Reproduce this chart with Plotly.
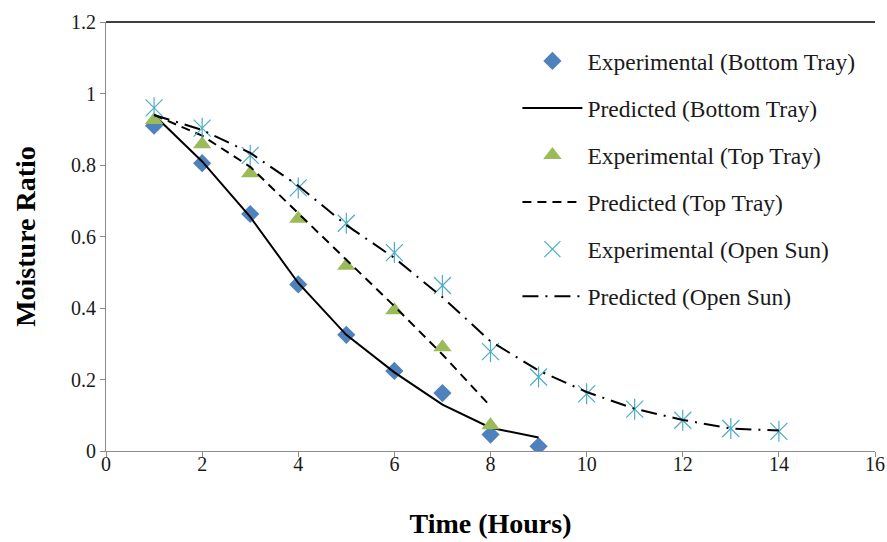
import plotly.graph_objects as go

# Drying time (hours)
hours_bottom = [1, 2, 3, 4, 5, 6, 7, 8, 9]
hours_top = [1, 2, 3, 4, 5, 6, 7, 8]
hours_sun = [1, 2, 3, 4, 5, 6, 7, 8, 9, 10, 11, 12, 13, 14]

# Moisture ratio: experimental and predicted
exp_bottom = [0.91, 0.805, 0.663, 0.466, 0.325, 0.224, 0.162, 0.046, 0.013]
pred_bottom = [0.94, 0.81, 0.655, 0.47, 0.325, 0.22, 0.13, 0.065, 0.038]

exp_top = [0.926, 0.858, 0.777, 0.65, 0.518, 0.394, 0.29, 0.072]
pred_top = [0.94, 0.882, 0.795, 0.665, 0.537, 0.405, 0.27, 0.125]

exp_sun = [0.96, 0.903, 0.827, 0.736, 0.637, 0.555, 0.463, 0.278, 0.207,
           0.16, 0.117, 0.086, 0.063, 0.055]
pred_sun = [0.94, 0.898, 0.834, 0.742, 0.632, 0.54, 0.43, 0.307, 0.225,
            0.165, 0.118, 0.087, 0.063, 0.057]

BLUE = "#4F81BD"
GREEN = "#9BBB59"
CYAN = "#4BACC6"
SERIF = "Liberation Serif, Times New Roman, serif"

fig = go.Figure()

fig.add_trace(go.Scatter(
    x=hours_bottom, y=exp_bottom, mode="markers",
    name="Experimental (Bottom Tray)", legendgroup="g1",
    marker=dict(symbol="diamond", size=14, color=BLUE),
))
fig.add_trace(go.Scatter(
    x=hours_bottom, y=pred_bottom, mode="lines",
    name="Predicted (Bottom Tray)", legendgroup="g2",
    line=dict(color="black", width=2),
))
fig.add_trace(go.Scatter(
    x=hours_top, y=exp_top, mode="markers",
    name="Experimental (Top Tray)", legendgroup="g3",
    marker=dict(symbol="triangle-up", size=16, color=GREEN),
))
fig.add_trace(go.Scatter(
    x=hours_top, y=pred_top, mode="lines",
    name="Predicted (Top Tray)", legendgroup="g4",
    line=dict(color="black", width=2, dash="9px,6px"),
))
# star marker: an X with a vertical stroke through it
fig.add_trace(go.Scatter(
    x=hours_sun, y=exp_sun, mode="markers",
    name="Experimental (Open Sun)", legendgroup="g5",
    marker=dict(symbol="x-thin-open", size=17, color=CYAN,
                line=dict(color=CYAN, width=1.2)),
))
fig.add_trace(go.Scatter(
    x=hours_sun, y=exp_sun, mode="markers",
    name="Experimental (Open Sun)", legendgroup="g5", showlegend=False,
    marker=dict(symbol="line-ns-open", size=15, color=CYAN,
                line=dict(color=CYAN, width=1.2)),
))
fig.add_trace(go.Scatter(
    x=hours_sun, y=pred_sun, mode="lines",
    name="Predicted (Open Sun)", legendgroup="g6",
    line=dict(color="black", width=2, dash="16px,7px,2px,7px"),
))

axis_common = dict(
    showline=True, linecolor="#8C8C8C", linewidth=1,
    ticks="outside", ticklen=5, tickcolor="#8C8C8C",
    showgrid=False, zeroline=False,
    tickfont=dict(family=SERIF, size=20, color="#1a1a1a"),
)

fig.update_xaxes(
    range=[0, 16], dtick=2, tick0=0, ticklabelstandoff=-10,
    title=dict(text="<b>Time (Hours)</b>", font=dict(family=SERIF, size=28, color="black"),
               standoff=39),
    **axis_common,
)
fig.update_yaxes(
    range=[0, 1.2], dtick=0.2, tick0=0,
    title=dict(text="<b>Moisture Ratio</b>", font=dict(family=SERIF, size=28, color="black"),
               standoff=27),
    **axis_common,
)

# thin frame line along the top of the plotting area
fig.add_shape(type="line", xref="paper", yref="paper", x0=0, x1=1, y0=1, y1=1,
              line=dict(color="black", width=1.5))

fig.update_layout(
    width=887, height=542,
    margin=dict(l=106, r=12, t=22, b=91, autoexpand=False),
    paper_bgcolor="white", plot_bgcolor="white",
    showlegend=True,
    legend=dict(
        x=0.535, y=0.96, xanchor="left", yanchor="top",
        font=dict(family=SERIF, size=23.5, color="#1a1a1a"),
        traceorder="grouped", tracegroupgap=13.5, itemwidth=60,
        bgcolor="rgba(0,0,0,0)",
    ),
)

fig.write_html("out.html")
